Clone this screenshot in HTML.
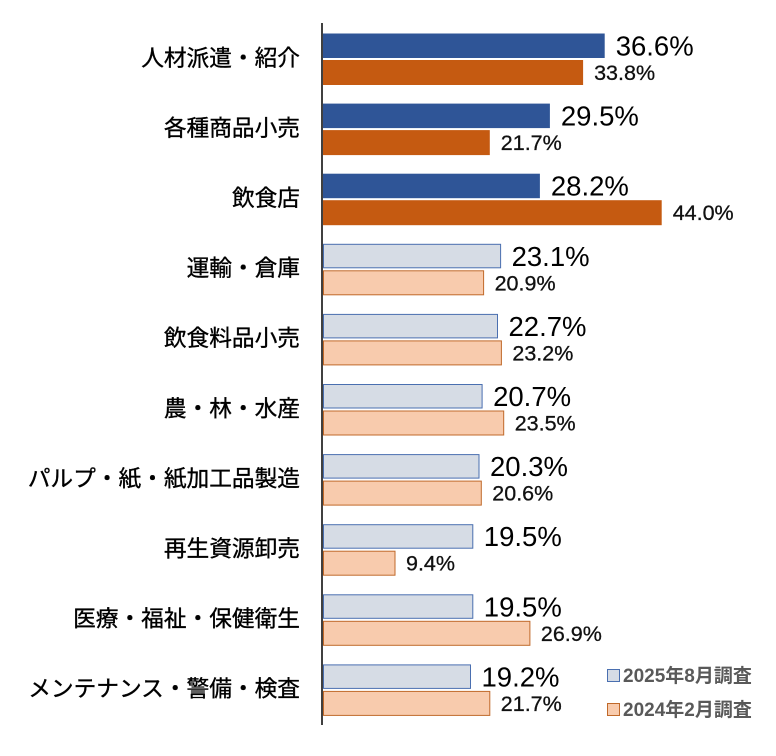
<!DOCTYPE html>
<html><head><meta charset="utf-8"><style>
html,body{margin:0;padding:0;background:#fff;}
svg{display:block;}
.cat{font-family:"Liberation Sans","Noto Sans CJK JP",sans-serif;font-size:22.7px;fill:#000;stroke:#000;stroke-width:0.35;text-anchor:end;}
.vb{font-family:"Liberation Sans","Noto Sans CJK JP",sans-serif;font-size:27.5px;fill:#000;}
.vo{font-family:"Liberation Sans","Noto Sans CJK JP",sans-serif;font-size:21.5px;fill:#111;stroke:#111;stroke-width:0.3;}
.lg{font-family:"Liberation Sans","Noto Sans CJK JP",sans-serif;font-size:19px;font-weight:bold;fill:#595959;}
</style></head><body>
<svg width="776" height="756" viewBox="0 0 776 756" xmlns="http://www.w3.org/2000/svg">
<rect width="776" height="756" fill="#fff"/>
<!-- row 0 -->
<rect x="323" y="33.5" width="281.7" height="24.5" fill="#2f5597"/>
<rect x="323" y="60" width="260.1" height="25" fill="#c55a11"/>
<text class="vb" x="615.7" y="55.5">36.6%</text>
<text class="vo" x="594.1" y="80">33.8%</text>
<text class="cat" x="300" y="65.8">人材派遣・紹介</text>
<!-- row 1 -->
<rect x="323" y="103.6" width="226.9" height="24.5" fill="#2f5597"/>
<rect x="323" y="130.1" width="166.8" height="25" fill="#c55a11"/>
<text class="vb" x="560.9" y="125.6">29.5%</text>
<text class="vo" x="500.8" y="150.1">21.7%</text>
<text class="cat" x="300" y="135.9">各種商品小売</text>
<!-- row 2 -->
<rect x="323" y="173.7" width="216.9" height="24.5" fill="#2f5597"/>
<rect x="323" y="200.2" width="338.7" height="25" fill="#c55a11"/>
<text class="vb" x="550.9" y="195.7">28.2%</text>
<text class="vo" x="672.7" y="220.2">44.0%</text>
<text class="cat" x="300" y="206">飲食店</text>
<!-- row 3 -->
<rect x="323.5" y="244.3" width="177.1" height="23.5" fill="#d6dce5" stroke="#4a6fb0" stroke-width="1"/>
<rect x="323.5" y="270.8" width="160.1" height="24" fill="#f8cbad" stroke="#c0692a" stroke-width="1"/>
<text class="vb" x="511.6" y="265.8">23.1%</text>
<text class="vo" x="494.6" y="290.3">20.9%</text>
<text class="cat" x="300" y="276.1">運輸・倉庫</text>
<!-- row 4 -->
<rect x="323.5" y="314.4" width="174" height="23.5" fill="#d6dce5" stroke="#4a6fb0" stroke-width="1"/>
<rect x="323.5" y="340.9" width="177.9" height="24" fill="#f8cbad" stroke="#c0692a" stroke-width="1"/>
<text class="vb" x="508.5" y="335.9">22.7%</text>
<text class="vo" x="512.4" y="360.4">23.2%</text>
<text class="cat" x="300" y="346.2">飲食料品小売</text>
<!-- row 5 -->
<rect x="323.5" y="384.5" width="158.6" height="23.5" fill="#d6dce5" stroke="#4a6fb0" stroke-width="1"/>
<rect x="323.5" y="411" width="180.2" height="24" fill="#f8cbad" stroke="#c0692a" stroke-width="1"/>
<text class="vb" x="493.1" y="406">20.7%</text>
<text class="vo" x="514.7" y="430.5">23.5%</text>
<text class="cat" x="300" y="416.3">農・林・水産</text>
<!-- row 6 -->
<rect x="323.5" y="454.6" width="155.5" height="23.5" fill="#d6dce5" stroke="#4a6fb0" stroke-width="1"/>
<rect x="323.5" y="481.1" width="157.8" height="24" fill="#f8cbad" stroke="#c0692a" stroke-width="1"/>
<text class="vb" x="490" y="476.1">20.3%</text>
<text class="vo" x="492.3" y="500.6">20.6%</text>
<text class="cat" x="300" y="486.4">パルプ・紙・紙加工品製造</text>
<!-- row 7 -->
<rect x="323.5" y="524.7" width="149.3" height="23.5" fill="#d6dce5" stroke="#4a6fb0" stroke-width="1"/>
<rect x="323.5" y="551.2" width="71.5" height="24" fill="#f8cbad" stroke="#c0692a" stroke-width="1"/>
<text class="vb" x="483.8" y="546.2">19.5%</text>
<text class="vo" x="406" y="570.7">9.4%</text>
<text class="cat" x="300" y="556.5">再生資源卸売</text>
<!-- row 8 -->
<rect x="323.5" y="594.8" width="149.3" height="23.5" fill="#d6dce5" stroke="#4a6fb0" stroke-width="1"/>
<rect x="323.5" y="621.3" width="206.4" height="24" fill="#f8cbad" stroke="#c0692a" stroke-width="1"/>
<text class="vb" x="483.8" y="616.3">19.5%</text>
<text class="vo" x="540.9" y="640.8">26.9%</text>
<text class="cat" x="300" y="626.6">医療・福祉・保健衛生</text>
<!-- row 9 -->
<rect x="323.5" y="664.9" width="147" height="23.5" fill="#d6dce5" stroke="#4a6fb0" stroke-width="1"/>
<rect x="323.5" y="691.4" width="166.3" height="24" fill="#f8cbad" stroke="#c0692a" stroke-width="1"/>
<text class="vb" x="481.5" y="686.4">19.2%</text>
<text class="vo" x="500.8" y="710.9">21.7%</text>
<text class="cat" x="300" y="696.7">メンテナンス・警備・検査</text>
<!-- axis -->
<line x1="322" y1="23" x2="322" y2="725" stroke="#000" stroke-width="1.5"/>
<!-- legend -->
<rect x="607.5" y="669.5" width="12" height="12" fill="#d6dce5" stroke="#4a6fb0" stroke-width="1"/>
<text class="lg" x="623" y="682">2025年8月調査</text>
<rect x="607.5" y="703.5" width="12" height="12" fill="#f8cbad" stroke="#c0692a" stroke-width="1"/>
<text class="lg" x="623" y="716">2024年2月調査</text>
</svg>
</body></html>
